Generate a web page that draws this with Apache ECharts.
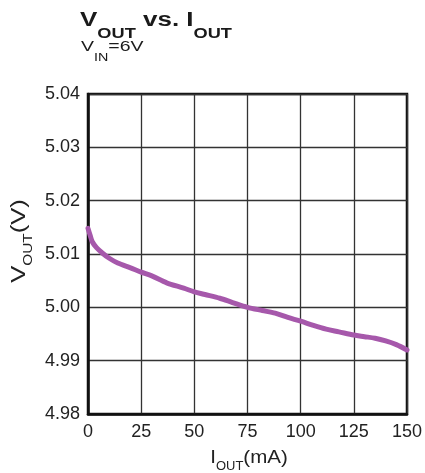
<!DOCTYPE html>
<html>
<head>
<meta charset="utf-8">
<script src="https://cdn.jsdelivr.net/npm/echarts@6/dist/echarts.min.js"></script>
<style>html,body{margin:0;padding:0;background:#fff}#c{width:425px;height:473px}</style>
</head>
<body>
<div id="c"></div>
<script>
const iout = [0, 1, 2, 4, 7, 10, 14, 20, 25, 30, 37, 45, 50, 55, 62, 68, 75, 82, 88, 94, 100, 106, 112, 118, 125, 130, 135, 140, 145, 150];
const vout = [5.0148, 5.0135, 5.0123, 5.0112, 5.0101, 5.0092, 5.0083, 5.0074, 5.0066, 5.0059, 5.0046, 5.0036, 5.0029, 5.0024, 5.0017, 5.0009, 5.0000, 4.9994, 4.9989, 4.9981, 4.9974, 4.9966, 4.9959, 4.9954, 4.9948, 4.9945, 4.9942, 4.9937, 4.9930, 4.9920];
const xTicks = [0, 25, 50, 75, 100, 125, 150];
const yTicks = [4.98, 4.99, 5.00, 5.01, 5.02, 5.03, 5.04];

const FONT = 'Liberation Sans, Arial, sans-serif';
const INK = '#1a1a1a';
const chart = echarts.init(document.getElementById('c'), null, {renderer: 'canvas'});
chart.setOption({
  animation: false,
  backgroundColor: '#fff',
  textStyle: {fontFamily: FONT},
  grid: {left: 88, top: 94, right: 17, bottom: 59, show: true, borderColor: '#111', borderWidth: 2.5},
  xAxis: {
    type: 'value', min: 0, max: 150, interval: 25,
    axisLine: {show: true, lineStyle: {color: '#111', width: 2.5}},
    axisTick: {show: false},
    splitLine: {show: true, lineStyle: {color: '#333', width: 1.3}},
    axisLabel: {color: '#222', fontSize: 18, fontFamily: FONT, margin: 9,
      formatter: v => xTicks.includes(v) ? String(v) : ''}
  },
  yAxis: {
    type: 'value', min: 4.98, max: 5.04, interval: 0.01,
    axisLine: {show: true, lineStyle: {color: '#111', width: 2.5}},
    axisTick: {show: false},
    splitLine: {show: true, lineStyle: {color: '#333', width: 1.3}},
    axisLabel: {color: '#222', fontSize: 18, fontFamily: FONT, margin: 8,
      formatter: v => v.toFixed(2)}
  },
  graphic: [{
    type: 'text', x: 80, y: 21, scaleX: 1.3,
    style: {
      text: '{b|V}{bs|OUT}{b| vs. I}{bs|OUT}',
      align: 'left', verticalAlign: 'top',
      rich: {
        b: {fontFamily: FONT, fontSize: 20, fontWeight: 'bold', fill: INK, lineHeight: 20, padding: [0, 0, 11, 0], verticalAlign: 'bottom'},
        bs: {fontFamily: FONT, fontSize: 14, fontWeight: 'bold', fill: INK, lineHeight: 14, verticalAlign: 'bottom'}
      }
    }
  }, {
    type: 'text', x: 81, y: 48, scaleX: 1.3,
    style: {
      text: '{n|V}{s|IN}{n|=6V}',
      align: 'left', verticalAlign: 'top',
      rich: {
        n: {fontFamily: FONT, fontSize: 15, fill: INK, lineHeight: 15, padding: [0, 0, 9, 0], verticalAlign: 'bottom'},
        s: {fontFamily: FONT, fontSize: 11, fill: INK, lineHeight: 11, verticalAlign: 'bottom'}
      }
    }
  }, {
    type: 'text', x: 249, y: 454, scaleX: 1.08,
    style: {
      text: '{n|I}{s|OUT}{n|(mA)}',
      align: 'center', verticalAlign: 'top',
      rich: {
        n: {fontFamily: FONT, fontSize: 19, fill: '#222', lineHeight: 19, padding: [0, 0, 6, 0], verticalAlign: 'bottom'},
        s: {fontFamily: FONT, fontSize: 12, fill: '#222', lineHeight: 12, verticalAlign: 'bottom'}
      }
    }
  }, {
    type: 'text', x: 25, y: 241, rotation: Math.PI / 2, scaleX: 1.28,
    style: {
      text: '{n|V}{s|OUT}{n|(V)}',
      align: 'center', verticalAlign: 'middle',
      rich: {
        n: {fontFamily: FONT, fontSize: 20, fill: '#222', lineHeight: 20, padding: [0, 0, 6, 0], verticalAlign: 'bottom'},
        s: {fontFamily: FONT, fontSize: 12, fill: '#222', lineHeight: 12, verticalAlign: 'bottom'}
      }
    }
  }],
  series: [{
    type: 'line', smooth: 0.3, showSymbol: false,
    data: iout.map((x, i) => [x, vout[i]]),
    lineStyle: {color: '#a658ab', width: 5, cap: 'round', join: 'round'},
    itemStyle: {color: '#a658ab'}
  }]
});
</script>
</body>
</html>
